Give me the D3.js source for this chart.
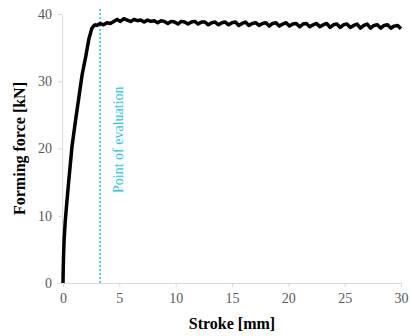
<!DOCTYPE html>
<html>
<head>
<meta charset="utf-8">
<script src="https://cdn.jsdelivr.net/npm/d3@7"></script>
<style>
  body { margin: 0; background: #fff; }
  svg { display: block; }
  text { font-family: "Liberation Serif", "Times New Roman", serif; }
</style>
</head>
<body>
<svg id="chart"></svg>
<script>
const svg_w = 412;
const svg_h = 336;
const margin = {l:63, r:11, t:14, b:53};

// valores
const x_ticks = [0, 5, 10, 15, 20, 25, 30];
const y_ticks = [0, 10, 20, 30, 40];
const eval_stroke = 3.3;
const eval_label = "Point of evaluation";

// curva de fuerza: carrera [mm] y fuerza [kN]
const stroke = [0, 0.02, 0.05, 0.1, 0.2, 0.3, 0.5, 0.8, 1.1, 1.4, 1.7, 2.0, 2.3, 2.55, 2.7, 2.85,
  3.0, 3.3, 3.6, 3.9, 4.2, 4.5, 4.8, 5.1, 5.4, 5.7, 6.0, 6.3, 6.6, 6.9, 7.2, 7.5, 7.8, 8.1, 8.4, 8.7,
  9.0, 9.3, 9.6, 9.9, 10.2, 10.5, 10.8, 11.1, 11.4, 11.7, 12.0, 12.3, 12.6, 12.9, 13.2, 13.5, 13.8,
  14.1, 14.4, 14.7, 15.0, 15.3, 15.6, 15.9, 16.2, 16.5, 16.8, 17.1, 17.4, 17.7, 18.0, 18.3, 18.6,
  18.9, 19.2, 19.5, 19.8, 20.1, 20.4, 20.7, 21.0, 21.3, 21.6, 21.9, 22.2, 22.5, 22.8, 23.1, 23.4,
  23.7, 24.0, 24.3, 24.6, 24.9, 25.2, 25.5, 25.8, 26.1, 26.4, 26.7, 27.0, 27.3, 27.6, 27.9, 28.2,
  28.5, 28.8, 29.1, 29.4, 29.7, 30.0];
const force = [0, 2, 4, 6.5, 9.2, 11.2, 15, 20.3, 24, 27.5, 31, 33.5, 36.3, 37.8, 38.2, 38.4,
  38.3, 38.6, 38.4, 38.7, 38.6, 38.9, 39.2, 38.9, 39.3, 39.1, 38.9, 39.2, 39.0, 39.1, 38.8, 39.1, 38.9, 39.0, 38.7, 39.0,
  38.9, 38.6, 38.9, 38.8, 38.5, 38.9, 38.8, 38.5, 38.8, 38.9, 38.5, 38.8, 38.8, 38.4, 38.7, 38.8, 38.4,
  38.7, 38.8, 38.4, 38.7, 38.8, 38.3, 38.6, 38.8, 38.3, 38.6, 38.7, 38.3, 38.6, 38.7, 38.2, 38.6,
  38.7, 38.2, 38.5, 38.7, 38.2, 38.5, 38.6, 38.1, 38.5, 38.6, 38.1, 38.4, 38.6, 38.1, 38.4, 38.6,
  38.0, 38.4, 38.5, 38.0, 38.4, 38.5, 38.0, 38.3, 38.5, 37.9, 38.3, 38.5, 37.9, 38.3, 38.4, 37.9,
  38.3, 38.4, 37.9, 38.2, 38.3, 37.8];

const data = stroke.map((s, i) => ({s: s, f: force[i]}));

const svg = d3.select("#chart")
  .attr("width", svg_w)
  .attr("height", svg_h);

const x_scale = d3.scaleLinear()
  .domain([0, 30])
  .range([margin.l, svg_w - margin.r]);

const y_scale = d3.scaleLinear()
  .domain([0, 40])
  .range([svg_h - margin.b, margin.t]);

// eje x
const gx = svg.append("g")
  .attr("transform", `translate(0,${y_scale(0)})`)
  .call(d3.axisBottom(x_scale).tickValues(x_ticks).tickSize(4).tickPadding(6).tickSizeOuter(0));

// eje y
const gy = svg.append("g")
  .attr("transform", `translate(${x_scale(0) - 1},0)`)
  .call(d3.axisLeft(y_scale).tickValues(y_ticks).tickSize(4).tickPadding(6).tickSizeOuter(0));

[gx, gy].forEach(g => {
  g.attr("font-family", null);
  g.selectAll(".domain, line").attr("stroke", "#d9d9d9");
  g.selectAll("text")
    .attr("fill", "#595959")
    .style("font-size", "14px");
});

// línea del punto de evaluación
svg.append("line")
  .attr("x1", x_scale(eval_stroke))
  .attr("x2", x_scale(eval_stroke))
  .attr("y1", y_scale(0))
  .attr("y2", y_scale(41))
  .attr("stroke", "#1cc8f0")
  .attr("stroke-width", 1.5)
  .attr("stroke-dasharray", "2,2");

svg.append("text")
  .attr("transform", `translate(${x_scale(eval_stroke) + 23},${y_scale(21.3)}) rotate(-90)`)
  .attr("text-anchor", "middle")
  .attr("fill", "#1cc8f0")
  .style("font-size", "14px")
  .text(eval_label);

// curva
svg.append("path")
  .datum(data)
  .attr("fill", "none")
  .attr("stroke", "black")
  .attr("stroke-width", 3.5)
  .attr("stroke-linejoin", "round")
  .attr("d", d3.line().x(d => x_scale(d.s)).y(d => y_scale(d.f)));

// títulos de ejes
svg.append("text")
  .attr("x", (x_scale(0) + x_scale(30)) / 2)
  .attr("y", 329)
  .attr("text-anchor", "middle")
  .style("font-size", "16px")
  .style("font-weight", "bold")
  .text("Stroke [mm]");

svg.append("text")
  .attr("transform", `translate(25,${(y_scale(0) + y_scale(40)) / 2}) rotate(-90)`)
  .attr("text-anchor", "middle")
  .style("font-size", "16px")
  .style("font-weight", "bold")
  .text("Forming force [kN]");
</script>
</body>
</html>
